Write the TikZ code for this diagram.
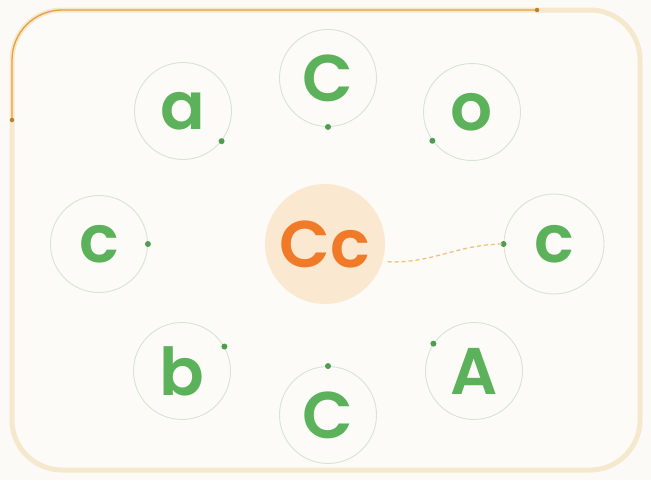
\documentclass[tikz,border=0pt]{standalone}
\usepackage{fontspec}
\setmainfont{Poppins}[BoldFont={* SemiBold}]
\begin{document}
\begin{tikzpicture}[x=1pt,y=-1pt,
  letter/.style={circle, draw=ringc, line width=0.9pt, minimum size=97pt, inner sep=0pt,
                 text=greenc, font=\fontsize{66}{66}\selectfont\bfseries},
  hub/.style={circle, fill=hubfill, minimum size=120pt, inner sep=0pt,
              text=orangec, font=\fontsize{66}{66}\selectfont\bfseries},
  gdot/.style={circle, fill=dotc, inner sep=0pt, minimum size=6pt},
  odot/.style={circle, fill=orangeline!80!black, inner sep=0pt, minimum size=4.5pt}]
\definecolor{bgc}{HTML}{FCFAF7}
\definecolor{framec}{HTML}{F5E8CD}
\definecolor{framefill}{HTML}{FDFBF7}
\definecolor{ringc}{HTML}{D6E4D2}
\definecolor{greenc}{HTML}{5BB25A}
\definecolor{dotc}{HTML}{4E9E52}
\definecolor{orangec}{HTML}{F07A28}
\definecolor{hubfill}{HTML}{FBE8D0}
\definecolor{orangeline}{HTML}{E8A03C}
\definecolor{dashc}{HTML}{F0C27A}
\useasboundingbox[fill=bgc] (0,0) rectangle (651,480);
\draw[draw=framec, fill=framefill, line width=5pt, rounded corners=50pt] (12,10) rectangle (640,470);
% progress line on the frame
\coordinate (p1) at (12,120);
\coordinate (p2) at (12,10);
\coordinate (p3) at (537,10);
\draw[orangeline, line width=1.3pt, rounded corners=50pt] (p1) -- (p2) -- (p3);
\node[odot] at (p1) {};
\node[odot] at (p3) {};
% nodes
\node[hub] (Cc) at (325,244) {Cc};
\node[letter] (a)  at (183,111) {a};
\node[letter] (Ct) at (328,78)  {C};
\node[letter] (o)  at (472,112) {o};
\node[letter] (cl) at (99,244)  {c};
\node[letter, minimum size=100pt] (cr) at (554,244) {c};
\node[letter] (b)  at (182,371) {b};
\node[letter] (Cb) at (328,415) {C};
\node[letter] (A)  at (474,371) {A};
% dots on rings
\node[gdot] at (a.-38) {};
\node[gdot] at (Ct.-90) {};
\node[gdot] at (o.-144) {};
\node[gdot] at (cl.0) {};
\node[gdot] (crdot) at (cr.180) {};
\node[gdot] at (b.30) {};
\node[gdot] at (Cb.90) {};
\node[gdot] at (A.146) {};
% dashed connector
\draw[dashc, line width=1.3pt, dash pattern=on 4pt off 3pt, shorten <=5pt]
  (Cc.-17) .. controls +(50,2) and +(-45,0) .. (crdot.center);
\end{tikzpicture}
\end{document}
